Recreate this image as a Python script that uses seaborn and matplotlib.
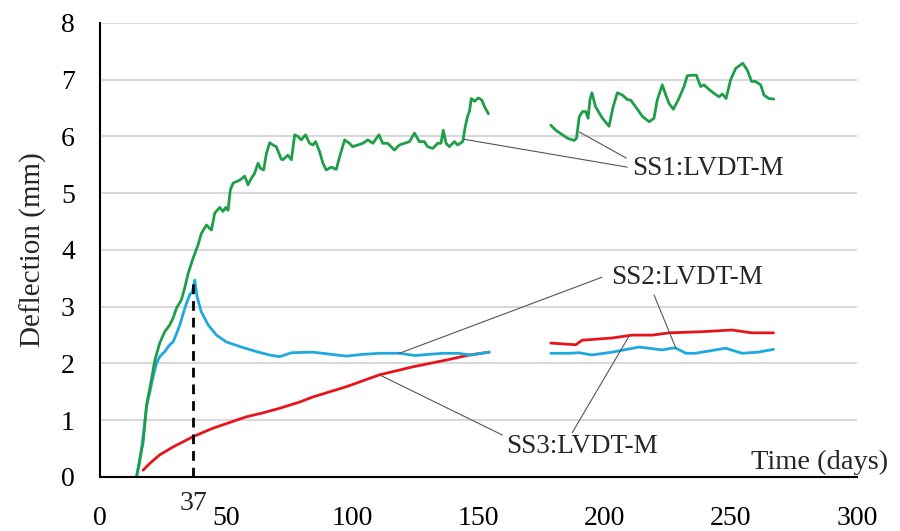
import numpy as np
import pandas as pd
import matplotlib
matplotlib.use("Agg")
import matplotlib.pyplot as plt
import seaborn as sns

# ---------------- data ----------------
ss1_days_a = [14.5, 15.5, 16.5, 17.1, 18.5, 20.4, 21.8, 23.7, 25.7, 27.7, 29.0, 30.4, 32.3, 33.6, 35.0,
              36.9, 38.9, 40.2, 42.2, 44.2, 45.5, 47.5, 48.8, 49.9, 50.8, 51.7, 52.8, 55.4, 57.4, 58.7,
              60.0, 61.3, 62.7, 63.6, 64.9, 66.0, 67.3, 68.6, 69.9, 71.9, 72.5, 74.5, 75.9, 77.2, 78.5,
              79.8, 81.5, 83.1, 84.4, 85.5, 87.1, 88.4, 89.7, 91.7, 93.7, 95.0, 97.0, 98.9, 100.2,
              102.2, 104.2, 106.2, 108.2, 110.6, 112.1, 114.1, 116.7, 118.7, 120.7, 122.7, 124.7,
              126.6, 128.6, 129.9, 131.9, 133.9, 135.2, 136.1, 137.2, 138.5, 140.5, 141.8, 143.8,
              144.8, 145.7, 146.5, 147.2, 148.5, 150.0, 151.4, 152.5, 154.0]
ss1_vals_a = [0.00, 0.20, 0.47, 0.60, 1.27, 1.71, 2.06, 2.36, 2.56, 2.68, 2.80, 2.98, 3.12, 3.33, 3.59,
              3.85, 4.09, 4.29, 4.44, 4.35, 4.65, 4.75, 4.68, 4.75, 4.70, 5.06, 5.18, 5.23, 5.30, 5.15,
              5.26, 5.35, 5.53, 5.44, 5.41, 5.70, 5.89, 5.85, 5.82, 5.60, 5.59, 5.67, 5.59, 6.03, 6.00,
              5.94, 6.03, 5.88, 5.85, 5.91, 5.73, 5.53, 5.41, 5.46, 5.42, 5.64, 5.94, 5.88, 5.82,
              5.85, 5.88, 5.94, 5.88, 6.03, 5.88, 5.88, 5.76, 5.85, 5.88, 5.91, 6.06,
              5.91, 5.91, 5.82, 5.79, 5.88, 5.88, 6.11, 5.88, 5.82, 5.91, 5.85, 5.91,
              6.17, 6.35, 6.45, 6.67, 6.62, 6.68, 6.64, 6.52, 6.40]
ss1_days_b = [178.7, 180.7, 183.3, 185.3, 188.0, 188.9, 190.0, 191.3, 192.6, 193.5, 194.2, 195.0, 196.5,
              199.2, 201.8, 203.4, 205.1, 207.1, 209.1, 210.4, 212.4, 215.1, 217.7, 219.6, 220.9, 222.9,
              224.3, 225.6, 227.3, 229.5, 231.5, 232.8, 234.8, 236.4, 238.1, 239.4, 241.4, 243.4, 245.4,
              246.7, 248.2, 250.0, 252.0, 254.8, 256.6, 258.3, 259.8, 261.9, 263.2, 265.1, 267.1]
ss1_vals_b = [6.20, 6.11, 6.03, 5.97, 5.93, 5.97, 6.35, 6.44, 6.44, 6.32, 6.64, 6.77, 6.52,
              6.32, 6.18, 6.52, 6.77, 6.73, 6.65, 6.64, 6.52, 6.35, 6.26, 6.32, 6.64, 6.91,
              6.73, 6.58, 6.48, 6.67, 6.88, 7.07, 7.08, 7.08, 6.88, 6.91, 6.83, 6.76, 6.70,
              6.75, 6.67, 7.00, 7.20, 7.29, 7.17, 6.97, 6.97, 6.91, 6.73, 6.67, 6.66]

ss2_days_a = [14.5, 15.5, 16.5, 17.5, 18.5, 19.8, 21.1, 22.4, 23.7, 25.7, 27.7, 29.0, 30.4, 31.7, 33.0,
              34.3, 35.6, 36.7, 37.6, 38.5, 40.2, 42.9, 46.2, 50.1, 55.4, 62.0, 67.3, 71.2, 76.0,
              84.4, 90.0, 97.6, 104.0, 110.8, 118.7, 125.0, 130.0, 136.0, 142.0, 147.0, 150.0, 154.3]
ss2_vals_a = [0.00, 0.25, 0.50, 0.85, 1.24, 1.50, 1.77, 2.00, 2.12, 2.21, 2.33, 2.38, 2.53, 2.68, 2.88,
              3.06, 3.21, 3.27, 3.47, 3.18, 2.91, 2.68, 2.50, 2.38, 2.30, 2.21, 2.15, 2.12, 2.19,
              2.20, 2.17, 2.13, 2.16, 2.18, 2.18, 2.14, 2.16, 2.18, 2.18, 2.15, 2.17, 2.20]
ss2_days_b = [178.7, 186.0, 190.0, 195.0, 203.0, 213.7, 222.8, 226.8, 228.3, 232.3, 236.0, 248.0,
              254.5, 261.0, 267.0]
ss2_vals_b = [2.18, 2.18, 2.19, 2.15, 2.20, 2.29, 2.24, 2.27, 2.27, 2.18, 2.18, 2.27,
              2.18, 2.20, 2.25]

ss3_days_a = [17.1, 19.8, 23.7, 29.0, 36.9, 44.8, 51.4, 58.0, 64.6, 71.2, 79.1, 84.4, 97.6, 110.8,
              123.9, 137.2, 146.4, 154.3]
ss3_vals_a = [0.12, 0.24, 0.39, 0.53, 0.71, 0.86, 0.96, 1.06, 1.13, 1.21, 1.32, 1.41, 1.59, 1.80,
              1.94, 2.06, 2.15, 2.20]
ss3_days_b = [178.7, 188.6, 191.1, 203.0, 211.0, 219.0, 225.6, 238.6, 250.5, 258.4, 267.0]
ss3_vals_b = [2.36, 2.33, 2.41, 2.45, 2.50, 2.50, 2.54, 2.56, 2.59, 2.54, 2.54]

series_names = ["SS1:LVDT-M", "SS2:LVDT-M", "SS3:LVDT-M"]
series_colors = ["#1f9e48", "#1ea8e0", "#e8141c"]
x_ticks = [0, 50, 100, 150, 200, 250, 300]
y_ticks = [0, 1, 2, 3, 4, 5, 6, 7, 8]
mark_day = 37
mark_top = 3.42

# ---------------- build the long table ----------------
frames = []
for name, seg, d, v in [
    (series_names[0], "a", ss1_days_a, ss1_vals_a),
    (series_names[0], "b", ss1_days_b, ss1_vals_b),
    (series_names[1], "a", ss2_days_a, ss2_vals_a),
    (series_names[1], "b", ss2_days_b, ss2_vals_b),
    (series_names[2], "a", ss3_days_a, ss3_vals_a),
    (series_names[2], "b", ss3_days_b, ss3_vals_b),
]:
    frames.append(pd.DataFrame({"day": d, "defl": v, "series": name, "seg": seg}))
df = pd.concat(frames, ignore_index=True)

# ---------------- plot ----------------
sns.set_theme(style="white")
plt.rcParams["font.family"] = ["Liberation Serif", "DejaVu Serif"]

fig = plt.figure(figsize=(9, 5.31), dpi=100)
ax = fig.add_axes([0.111, 0.1017, 0.841, 0.855])

for y in y_ticks:
    ax.axhline(y, color="#d9d9d9", lw=1.5, zorder=0)

# draw red first, then blue, then green on top
sns.lineplot(data=df, x="day", y="defl", hue="series", units="seg", estimator=None,
             hue_order=series_names[::-1], palette=dict(zip(series_names, series_colors)),
             sort=False, lw=2.0, legend=False, ax=ax)

ax.plot([mark_day, mark_day], [0, mark_top], color="black", lw=2.0, ls=(0, (3.5, 2.5)), zorder=5)

ax.set_xlim(0, 300)
ax.set_ylim(0, 8)
ax.set_xticks(x_ticks)
ax.set_yticks(y_ticks)
ax.set_xticklabels([str(t) for t in x_ticks])
ax.set_yticklabels([str(t) for t in y_ticks])
ax.tick_params(axis="both", length=0, labelsize=20, colors="black")
ax.tick_params(axis="x", pad=21)
ax.tick_params(axis="y", pad=18)
ax.set_xlabel("")
ax.set_ylabel("Deflection (mm)", fontsize=21, labelpad=10)

for s in ["top", "right"]:
    ax.spines[s].set_visible(False)
for s in ["left", "bottom"]:
    ax.spines[s].set_color("black")
    ax.spines[s].set_linewidth(1.5)
ax.grid(False)

ax.annotate("37", xy=(mark_day, 0), xycoords="data", xytext=(0, -10), textcoords="offset points",
            ha="center", va="top", fontsize=20, annotation_clip=False)

ax.text(258, 0.26, "Time (days)", fontsize=20.5, ha="left", va="center")

lead = dict(arrowstyle="-", color="#555555", lw=0.8, shrinkA=0, shrinkB=0)
# SS1
ax.text(211, 5.44, series_names[0], fontsize=19.5, ha="left", va="center")
ax.annotate("", xy=(144.4, 5.95), xytext=(209, 5.46), arrowprops=lead)
ax.annotate("", xy=(190.0, 6.08), xytext=(208.6, 5.62), arrowprops=lead)
# SS2
ax.text(202.6, 3.52, series_names[1], fontsize=19.5, ha="left", va="center")
ax.annotate("", xy=(118.7, 2.18), xytext=(199, 3.52), arrowprops=lead)
ax.annotate("", xy=(228.3, 2.27), xytext=(219.6, 3.21), arrowprops=lead)
# SS3
ax.text(161, 0.53, series_names[2], fontsize=19.5, ha="left", va="center")
ax.annotate("", xy=(110.8, 1.80), xytext=(159.5, 0.74), arrowprops=lead)
ax.annotate("", xy=(209.7, 2.48), xytext=(187.2, 0.78), arrowprops=lead)

fig.savefig("out.png", dpi=100)
